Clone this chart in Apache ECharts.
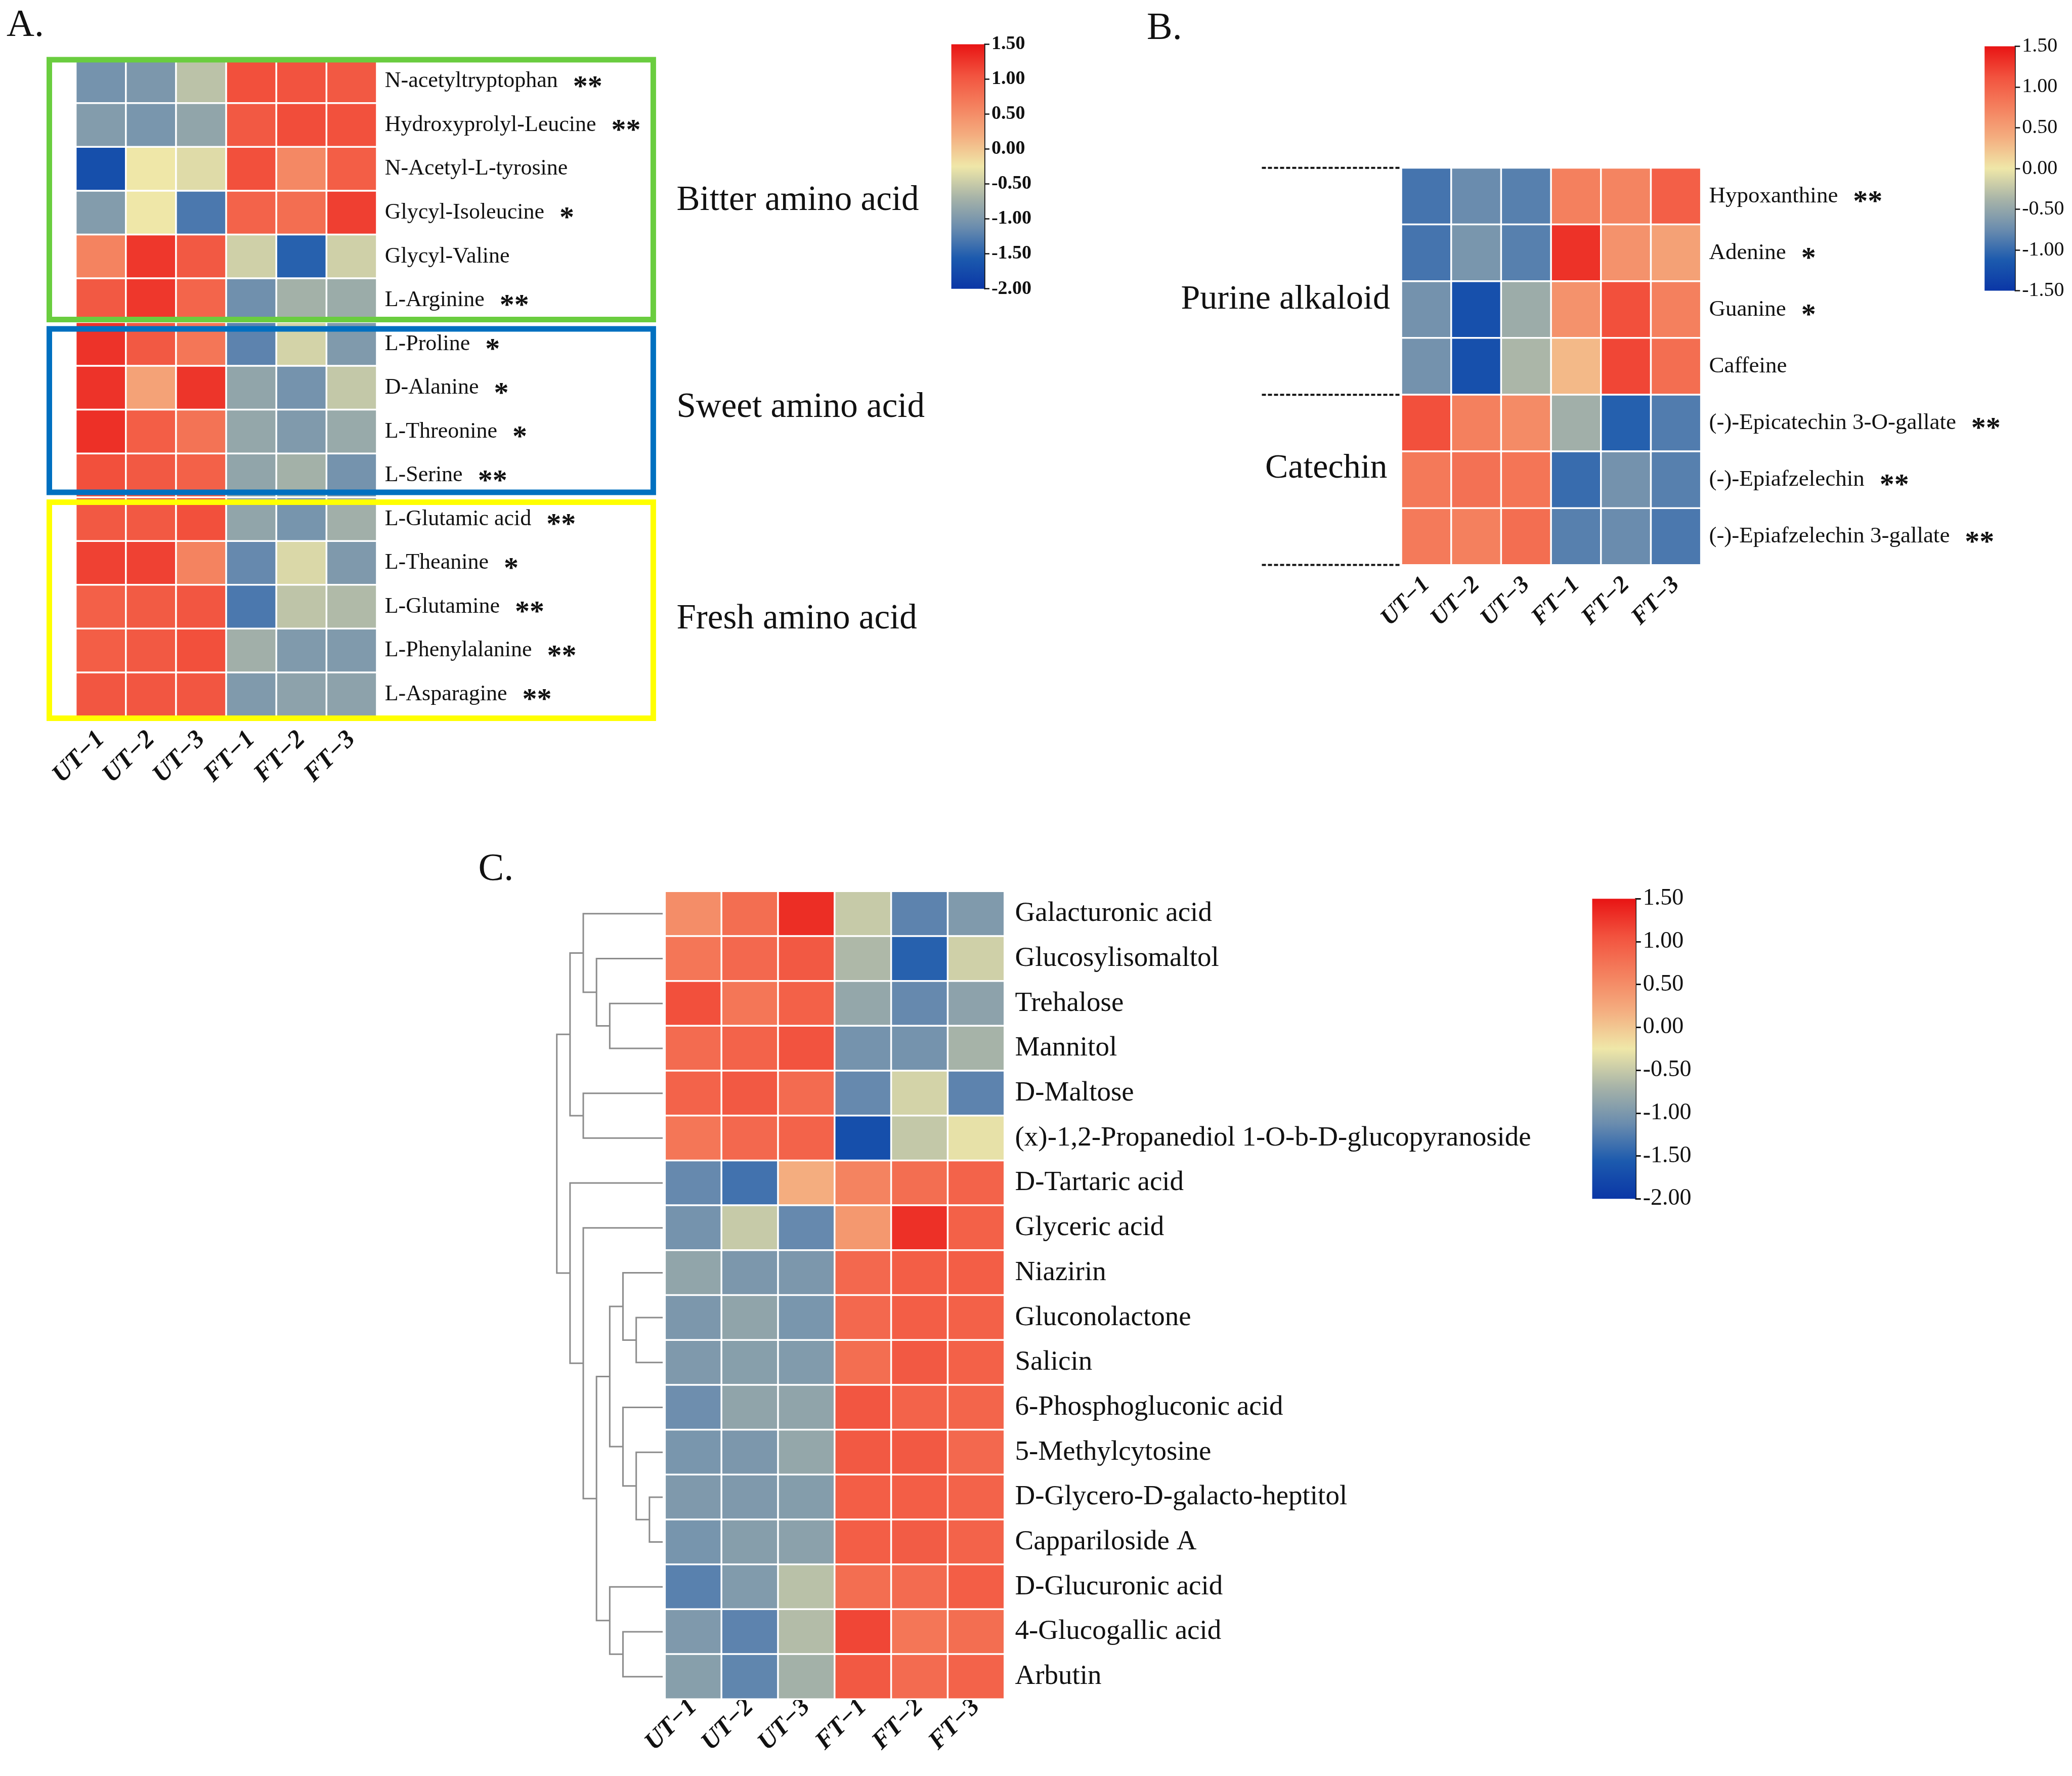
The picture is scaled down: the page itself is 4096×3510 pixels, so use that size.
<!DOCTYPE html>
<html><head><meta charset="utf-8">
<script src="https://cdn.jsdelivr.net/npm/echarts@6/dist/echarts.min.js"></script>
<style>html,body{margin:0;padding:0;background:#fff}#c{width:4096px;height:3510px}</style>
</head><body><div id="c"></div>
<script>
// ---------------- data ----------------
const samples = ['UT\u22121','UT\u22122','UT\u22123','FT\u22121','FT\u22122','FT\u22123'];

const rowsA = ['N-acetyltryptophan','Hydroxyprolyl-Leucine','N-Acetyl-L-tyrosine','Glycyl-Isoleucine','Glycyl-Valine','L-Arginine','L-Proline','D-Alanine','L-Threonine','L-Serine','L-Glutamic acid','L-Theanine','L-Glutamine','L-Phenylalanine','L-Asparagine'];
const sigA = ['**','**','','*','','**','*','*','*','**','**','*','**','**','**'];
const valuesA = [
  [-1.05,-1.0,-0.57,1.08,1.05,1.0],
  [-0.95,-1.02,-0.85,1.0,1.1,1.07],
  [-1.7,-0.25,-0.35,1.08,0.55,0.95],
  [-0.95,-0.25,-1.3,0.9,0.8,1.2],
  [0.6,1.25,1.0,-0.45,-1.5,-0.45],
  [1.0,1.25,0.88,-1.08,-0.72,-0.78],
  [1.28,1.0,0.72,-1.2,-0.42,-0.97],
  [1.28,0.3,1.27,-0.85,-1.05,-0.52],
  [1.3,0.95,0.75,-0.83,-0.97,-0.8],
  [1.08,1.0,0.92,-0.85,-0.72,-1.05],
  [1.0,1.0,1.08,-0.85,-1.03,-0.74],
  [1.18,1.18,0.6,-1.15,-0.38,-0.98],
  [0.93,0.98,1.02,-1.3,-0.55,-0.64],
  [0.95,1.0,1.08,-0.74,-0.97,-0.97],
  [1.02,1.02,1.02,-0.97,-0.88,-0.88]
];
const groupsA = ['Bitter amino acid','Sweet amino acid','Fresh amino acid'];

const rowsB = ['Hypoxanthine','Adenine','Guanine','Caffeine','(-)-Epicatechin 3-O-gallate','(-)-Epiafzelechin','(-)-Epiafzelechin 3-gallate'];
const sigB = ['**','*','*','','**','**','**'];
const valuesB = [
  [-0.93,-0.75,-0.84,0.75,0.72,1.02],
  [-0.93,-0.66,-0.84,1.32,0.6,0.48],
  [-0.69,-1.23,-0.45,0.6,1.14,0.75],
  [-0.69,-1.23,-0.36,0.3,1.2,0.9],
  [1.14,0.75,0.66,-0.42,-1.08,-0.87],
  [0.81,0.87,0.84,-0.99,-0.69,-0.84],
  [0.8,0.75,0.9,-0.84,-0.75,-0.9]
];
const groupsB = ['Purine alkaloid','Catechin'];
const groupSizesB = [4,3];

const rowsC = ['Galacturonic acid','Glucosylisomaltol','Trehalose','Mannitol','D-Maltose','(x)-1,2-Propanediol 1-O-b-D-glucopyranoside','D-Tartaric acid','Glyceric acid','Niazirin','Gluconolactone','Salicin','6-Phosphogluconic acid','5-Methylcytosine','D-Glycero-D-galacto-heptitol','Cappariloside A','D-Glucuronic acid','4-Glucogallic acid','Arbutin'];
const valuesC = [
  [0.5,0.8,1.32,-0.5,-1.2,-0.97],
  [0.72,0.85,1.0,-0.65,-1.5,-0.45],
  [1.08,0.72,0.92,-0.83,-1.15,-0.88],
  [0.82,0.9,1.05,-1.05,-1.05,-0.7],
  [0.9,1.0,0.82,-1.15,-0.42,-1.2],
  [0.72,0.85,0.9,-1.7,-0.52,-0.3],
  [-1.15,-1.35,0.2,0.6,0.8,0.9],
  [-1.05,-0.5,-1.15,0.4,1.3,0.92],
  [-0.85,-1.0,-1.0,0.85,0.95,0.95],
  [-1.0,-0.86,-1.02,0.85,0.95,0.92],
  [-0.98,-0.92,-0.96,0.8,1.0,0.92],
  [-1.1,-0.86,-0.86,1.02,0.9,0.88],
  [-1.02,-1.0,-0.83,1.0,1.0,0.85],
  [-0.98,-0.98,-0.94,0.95,0.95,0.9],
  [-1.03,-0.93,-0.89,0.95,0.97,0.9],
  [-1.22,-0.96,-0.58,0.8,0.82,0.95],
  [-0.98,-1.2,-0.62,1.15,0.72,0.8],
  [-0.92,-1.18,-0.72,1.0,0.82,0.9]
];
// dendrogram merges: [childA, childB, height]; numbers = leaf rows, 'mK' = K-th merge
const dendroC = [
  [2,3,4],[1,'m0',5],[0,'m1',6],[4,5,6],['m2','m3',7],
  [9,10,2],[8,'m5',3],[13,14,1],[12,'m7',2],[11,'m8',3],['m6','m9',4],
  [16,17,3],[15,'m11',4],['m10','m12',5],[7,'m13',6],[6,'m14',7],
  ['m4','m15',8]
];
const scaleA = [-2, 1.5];
const scaleB = [-1.5, 1.5];
const scaleC = [-2, 1.5];
const tickStep = 0.5;
const palette = ['#0a36a6','#1c5aae','#6a8cae','#a8b4a8','#efe7a8','#f4ae80','#f4805e','#f2523e','#e81414'];

// ---------------- layout ----------------
const FONT = '"Liberation Serif","Times New Roman",serif';
const INK = '#111';
const L = {
  A:  {left:149.9, top:117.5, width:594.8, height:1298.2},
  B:  {left:2770.3, top:331.7, width:592.1, height:784.9},
  C:  {left:1314.6, top:1761.5, width:670.9, height:1596.5},
  D:  {left:1100.7, top:1761.5, width:209.3, height:1596.5},
  cbA:{left:1880.6, top:87.5, width:65.3, height:483.2},
  cbB:{left:3923.2, top:91.4, width:60.1, height:483.2},
  cbC:{left:3147.5, top:1776.2, width:86.2, height:593}
};
const gridOf = g => Object.assign({outerBoundsMode:'none', containLabel:false}, g);

function cells(vals){ const d=[]; vals.forEach((r,i)=>r.forEach((v,j)=>d.push([j,i,v]))); return d; }

function dendroLines(merges){
  const nodes=[]; const out=[];
  const get = r => typeof r === 'number' ? {y:r,h:0} : nodes[+r.slice(1)];
  merges.forEach(([a,b,h])=>{
    const na=get(a), nb=get(b);
    out.push({coords:[[na.h,na.y],[h,na.y],[h,nb.y],[nb.h,nb.y]]});
    nodes.push({y:(na.y+nb.y)/2, h:h});
  });
  return out;
}

function rowAxis(idx, rows, sig, fs, starFs, margin, gap){
  const ax = {gridIndex:idx, type:'category', data:rows, inverse:true, position:'right',
    axisLine:{show:false,onZero:false}, axisTick:{show:false}, splitLine:{show:false},
    axisLabel:{margin:margin, fontFamily:FONT, fontSize:fs, color:INK}};
  if (sig) {
    ax.axisLabel.formatter = (v,i) => sig[i] ? `{n|${v}}{s|${sig[i]}}` : `{n|${v}}`;
    ax.axisLabel.rich = {
      n:{fontFamily:FONT, fontSize:fs, color:INK, lineHeight:fs*1.3, verticalAlign:'middle'},
      s:{fontFamily:FONT, fontSize:starFs, fontWeight:'bold', color:INK, lineHeight:starFs, padding:[26,0,0,gap], verticalAlign:'middle'}
    };
  }
  return ax;
}
function sampleAxis(idx, fs, margin, padTop){
  return {gridIndex:idx, type:'category', data:samples, position:'bottom',
    axisLine:{show:false,onZero:false}, axisTick:{show:false}, splitLine:{show:false},
    axisLabel:{rotate:45, margin:margin, padding:[padTop||0,0,0,0], fontFamily:FONT, fontSize:fs, fontWeight:'bold', fontStyle:'italic', color:INK, interval:0}};
}
function cbAxis(idx, sc, fs, bold, margin, lw){
  return {gridIndex:idx, type:'value', min:sc[0], max:sc[1], interval:tickStep, position:'right',
    axisLine:{show:true,onZero:false,lineStyle:{color:INK,width:lw}},
    axisTick:{show:true,length:10,lineStyle:{color:INK,width:lw}},
    splitLine:{show:false},
    axisLabel:{formatter:v=>v.toFixed(2), fontFamily:FONT, fontSize:fs, fontWeight:bold?'bold':'normal', color:INK, margin:margin}};
}
const gradStops = palette.map((c,i)=>({offset:1-i/(palette.length-1), color:c})).reverse();
function cbSeries(idx, sc){
  return {type:'custom', xAxisIndex:idx, yAxisIndex:idx, silent:true, data:[[0,sc[0],1,sc[1]]],
    renderItem:(p,api)=>{
      const a=api.coord([api.value(0),api.value(3)]), b=api.coord([api.value(2),api.value(1)]);
      return {type:'rect', shape:{x:a[0],y:a[1],width:b[0]-a[0],height:b[1]-a[1]},
        style:{fill:new echarts.graphic.LinearGradient(0,0,0,1,gradStops)}};
    }};
}
function heat(idx, vals){
  return {type:'heatmap', xAxisIndex:idx, yAxisIndex:idx, data:cells(vals), silent:true,
    itemStyle:{borderColor:'#fff', borderWidth:3.5}, emphasis:{disabled:true}, progressive:0};
}
function txt(text, x, y, fs, align){
  return {type:'text', x:x, y:y, z:120, silent:true,
    style:{text:text, fontFamily:FONT, fontSize:fs, fill:INK, align:align||'left', textAlign:align||'left', verticalAlign:'middle', textVerticalAlign:'middle'}};
}
function box(x,y,w,h,color){
  return {type:'rect', z:110, silent:true, shape:{x:x,y:y,width:w,height:h}, style:{fill:'none', stroke:color, lineWidth:11}};
}

// B dashed group separators
const rowHB = L.B.height / rowsB.length;
const sepB = [0]; groupSizesB.reduce((acc,n)=>{sepB.push(acc+n); return acc+n;},0);
const graphics = [
  txt('A.', 13, 51, 76), txt('B.', 2267, 57.5, 76), txt('C.', 945.5, 1718.7, 76),
  txt(groupsA[0], 1337.5, 397, 69), txt(groupsA[1], 1337.5, 806, 69), txt(groupsA[2], 1337.5, 1224, 69),
  txt(groupsB[0], 2748, 592, 68, 'right'), txt(groupsB[1], 2742.6, 926, 68, 'right'),
  box(97.5, 118.1, 1193.9, 513.4, '#6acd3f'),
  box(97.5, 649.9, 1193.9, 323.1, '#0070c0'),
  box(97.5, 992.6, 1193.9, 426.8, '#ffff00')
];
sepB.forEach(k=>{
  const y = L.B.top + k*rowHB;
  graphics.push({type:'line', z:100, silent:true, shape:{x1:2494.5,y1:y,x2:L.B.left,y2:y}, style:{stroke:INK,lineWidth:4,lineDash:[8,4]}});
});

const option = {
  animation:false,
  backgroundColor:'#fff',
  grid:[gridOf(L.A),gridOf(L.B),gridOf(L.C),gridOf(L.D),gridOf(L.cbA),gridOf(L.cbB),gridOf(L.cbC)],
  xAxis:[
    sampleAxis(0,50,38), sampleAxis(1,47,32), sampleAxis(2,50,8,40),
    {gridIndex:3,type:'value',min:0,max:8,inverse:true,show:false},
    {gridIndex:4,type:'value',min:0,max:1,show:false},
    {gridIndex:5,type:'value',min:0,max:1,show:false},
    {gridIndex:6,type:'value',min:0,max:1,show:false}
  ],
  yAxis:[
    rowAxis(0,rowsA,sigA,44,58,16,30), rowAxis(1,rowsB,sigB,45,58,16,30), rowAxis(2,rowsC,null,55,0,21,0),
    {gridIndex:3,type:'value',min:-0.5,max:rowsC.length-0.5,inverse:true,show:false},
    cbAxis(4,scaleA,38,true,14,2.5), cbAxis(5,scaleB,40,false,14,2.5), cbAxis(6,scaleC,46,false,14,3)
  ],
  visualMap:[
    {type:'continuous',show:false,seriesIndex:0,dimension:2,min:scaleA[0],max:scaleA[1],inRange:{color:palette}},
    {type:'continuous',show:false,seriesIndex:1,dimension:2,min:scaleB[0],max:scaleB[1],inRange:{color:palette}},
    {type:'continuous',show:false,seriesIndex:2,dimension:2,min:scaleC[0],max:scaleC[1],inRange:{color:palette}}
  ],
  series:[
    heat(0,valuesA), heat(1,valuesB), heat(2,valuesC),
    {type:'lines', coordinateSystem:'cartesian2d', xAxisIndex:3, yAxisIndex:3, polyline:true, silent:true,
      data:dendroLines(dendroC), lineStyle:{color:'#8c8c8c', width:3, opacity:1}},
    cbSeries(4,scaleA), cbSeries(5,scaleB), cbSeries(6,scaleC)
  ],
  graphic:graphics
};
const chart = echarts.init(document.getElementById('c'), null, {renderer:'canvas', width:4096, height:3510});
chart.setOption(option);
</script></body></html>
